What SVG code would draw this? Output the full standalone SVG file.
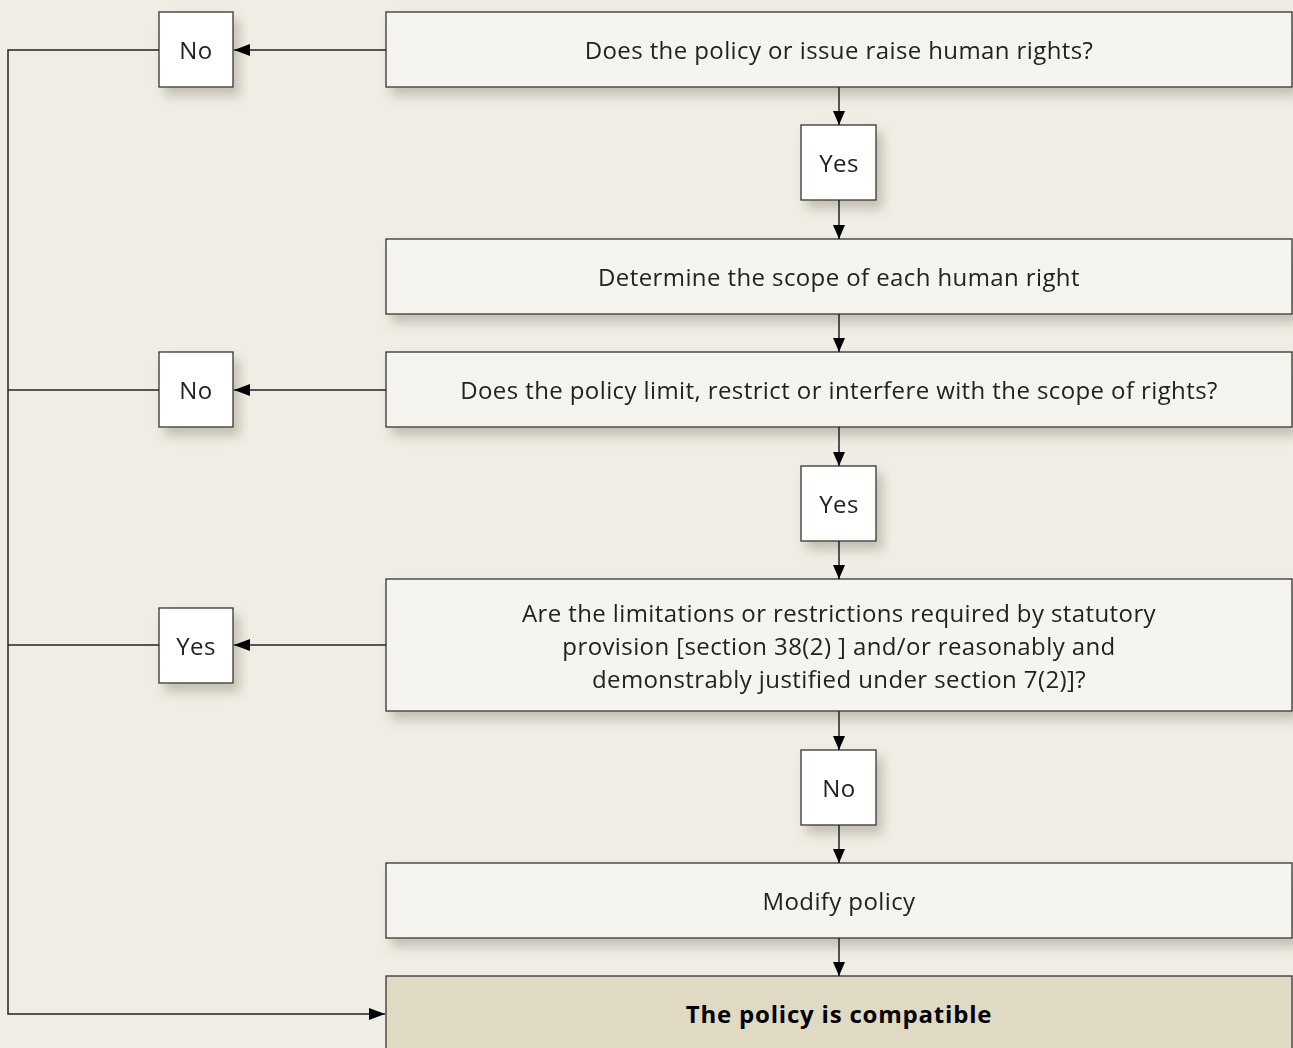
<svg xmlns="http://www.w3.org/2000/svg" width="1293" height="1048" viewBox="0 0 1293 1048">
<defs>
<filter id="sh" x="-10%" y="-20%" width="130%" height="160%">
<feDropShadow dx="6" dy="8" stdDeviation="6" flood-color="#8a8570" flood-opacity="0.45"/>
</filter>
<marker id="ah" viewBox="0 0 14 12" refX="14" refY="6" markerWidth="14" markerHeight="12" markerUnits="userSpaceOnUse" orient="auto">
<path d="M0,0 L14,6 L0,12 z" fill="#000"/>
</marker>
<marker id="ah2" viewBox="0 0 16 12" refX="16" refY="6" markerWidth="16" markerHeight="12" markerUnits="userSpaceOnUse" orient="auto">
<path d="M0,0 L16,6 L0,12 z" fill="#000"/>
</marker>
</defs>
<style>
.big{fill:#f6f4ef;stroke:#333;stroke-width:1.3}
.fin{fill:#e0dac4;stroke:#333;stroke-width:1.3}
.sm{fill:#fff;stroke:#333;stroke-width:1.3}
.t{font-family:"Open Sans","Noto Sans",sans-serif;font-size:24px;letter-spacing:0.4px;fill:#222;text-anchor:middle}
.b{font-weight:bold;fill:#000;letter-spacing:0.8px}
.c{fill:none;stroke:#222;stroke-width:1.5}
</style>
<rect width="1293" height="1048" fill="#f0ede5"/>
<g id="n1" filter="url(#sh)"><rect class="big" x="386" y="12" width="906" height="75"/><text class="t" x="839" y="59">Does the policy or issue raise human rights?</text></g>
<g id="no1" filter="url(#sh)"><rect class="sm" x="159" y="12" width="74" height="75"/><text class="t" x="196" y="59">No</text></g>
<g id="yes1" filter="url(#sh)"><rect class="sm" x="801" y="125" width="75" height="75"/><text class="t" x="839" y="172">Yes</text></g>
<g id="n2" filter="url(#sh)"><rect class="big" x="386" y="239" width="906" height="75"/><text class="t" x="839" y="286">Determine the scope of each human right</text></g>
<g id="n3" filter="url(#sh)"><rect class="big" x="386" y="352" width="906" height="75"/><text class="t" x="839" y="399">Does the policy limit, restrict or interfere with the scope of rights?</text></g>
<g id="no2" filter="url(#sh)"><rect class="sm" x="159" y="352" width="74" height="75"/><text class="t" x="196" y="399">No</text></g>
<g id="yes2" filter="url(#sh)"><rect class="sm" x="801" y="466" width="75" height="75"/><text class="t" x="839" y="513">Yes</text></g>
<g id="n4" filter="url(#sh)"><rect class="big" x="386" y="579" width="906" height="132"/><text class="t" x="839" y="622">Are the limitations or restrictions required by statutory</text><text class="t" x="839" y="655">provision [section 38(2) ] and/or reasonably and</text><text class="t" x="839" y="688">demonstrably justified under section 7(2)]?</text></g>
<g id="yes3" filter="url(#sh)"><rect class="sm" x="159" y="608" width="74" height="75"/><text class="t" x="196" y="655">Yes</text></g>
<g id="no3" filter="url(#sh)"><rect class="sm" x="801" y="750" width="75" height="75"/><text class="t" x="839" y="797">No</text></g>
<g id="n5" filter="url(#sh)"><rect class="big" x="386" y="863" width="906" height="75"/><text class="t" x="839" y="910">Modify policy</text></g>
<g id="n6"><rect class="fin" x="386" y="976" width="906" height="90"/><text class="t b" x="839" y="1023">The policy is compatible</text></g>
<g id="connectors">
<line class="c" x1="839" y1="87" x2="839" y2="125" marker-end="url(#ah)"/>
<line class="c" x1="839" y1="200" x2="839" y2="239" marker-end="url(#ah)"/>
<line class="c" x1="839" y1="314" x2="839" y2="352" marker-end="url(#ah)"/>
<line class="c" x1="839" y1="427" x2="839" y2="466" marker-end="url(#ah)"/>
<line class="c" x1="839" y1="541" x2="839" y2="579" marker-end="url(#ah)"/>
<line class="c" x1="839" y1="711" x2="839" y2="750" marker-end="url(#ah)"/>
<line class="c" x1="839" y1="825" x2="839" y2="863" marker-end="url(#ah)"/>
<line class="c" x1="839" y1="938" x2="839" y2="976" marker-end="url(#ah)"/>
<line class="c" x1="386" y1="50" x2="234" y2="50" marker-end="url(#ah2)"/>
<line class="c" x1="386" y1="390" x2="234" y2="390" marker-end="url(#ah2)"/>
<line class="c" x1="386" y1="645" x2="234" y2="645" marker-end="url(#ah2)"/>
<polyline class="c" points="159,50 8,50 8,1014 385,1014" marker-end="url(#ah2)"/>
<line class="c" x1="159" y1="390" x2="8" y2="390"/>
<line class="c" x1="159" y1="645" x2="8" y2="645"/>
</g>
</svg>
